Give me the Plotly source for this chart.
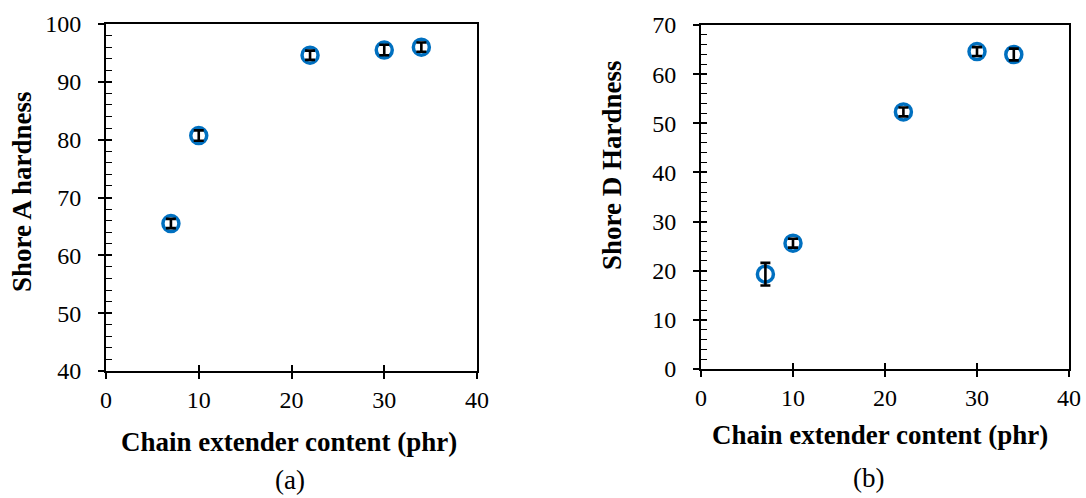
import plotly.graph_objects as go

# Chain extender content (phr)
content = [7, 10, 22, 30, 34]

# Shore A hardness and standard deviations
shore_a = [65.5, 80.7, 94.6, 95.5, 96.0]
shore_a_err = [0.8, 0.9, 0.8, 0.9, 0.8]

# Shore D hardness and standard deviations
shore_d = [19.3, 25.6, 52.3, 64.6, 64.0]
shore_d_err = [2.3, 0.9, 0.9, 0.9, 1.2]

FONT = "Liberation Serif, Times New Roman, serif"
BLUE = "#0070C0"
W, H = 1086, 498

fig = go.Figure()

marker = dict(symbol="circle-open", size=16, color=BLUE, line=dict(width=3.5, color=BLUE))


def err(vals):
    return dict(type="data", array=vals, visible=True, color="black", thickness=2.6, width=5)


# open circles, then the error bars on top of them
for ys, es, xa, ya in [(shore_a, shore_a_err, "x", "y"), (shore_d, shore_d_err, "x2", "y2")]:
    fig.add_trace(go.Scatter(x=content, y=ys, mode="markers", marker=marker,
                             xaxis=xa, yaxis=ya, showlegend=False))
    fig.add_trace(go.Scatter(x=content, y=ys, mode="markers", marker=dict(size=1, opacity=0),
                             error_y=err(es), xaxis=xa, yaxis=ya, showlegend=False,
                             hoverinfo="skip"))

dom_x1 = [106 / W, 477 / W]
dom_x2 = [701 / W, 1069 / W]
dom_y1 = [1 - 371 / H, 1 - 24 / H]
dom_y2 = [1 - 369 / H, 1 - 25 / H]

tickfont = dict(family=FONT, size=24, color="black")

common_x = dict(range=[0, 40], dtick=10, showgrid=False, zeroline=False, showline=True,
                linecolor="black", linewidth=1.8, mirror=True, ticks="outside", ticklen=6,
                tickwidth=1.5, tickcolor="black", tickfont=tickfont, automargin=False)
# en space after the value keeps the labels clear of the axis
common_y = dict(showgrid=False, zeroline=False, showline=True, linecolor="black",
                linewidth=1.8, mirror=True, ticks="outside", ticklen=6, tickwidth=1.5,
                tickcolor="black", tickfont=tickfont, automargin=False, ticksuffix="\u2002")


def inner_ticks(domain, anchor, over, rng, minor=False):
    # inner halves of the major ticks (and the minor ticks) drawn inside the frame
    ax = dict(domain=domain, anchor=anchor, overlaying=over, range=rng, dtick=10,
              showgrid=False, zeroline=False, showline=False, ticks="inside", ticklen=6,
              tickwidth=1.5, tickcolor="black", showticklabels=False, automargin=False)
    if minor:
        ax["minor"] = dict(ticks="inside", ticklen=6, tickwidth=1.3, tickcolor="black", dtick=2)
    return ax


fig.update_layout(
    width=W, height=H,
    margin=dict(l=0, r=0, t=0, b=0, autoexpand=False),
    paper_bgcolor="white", plot_bgcolor="white",
    xaxis=dict(domain=dom_x1, anchor="y", **common_x),
    yaxis=dict(domain=dom_y1, anchor="x", range=[40, 100], dtick=10, **common_y),
    xaxis2=dict(domain=dom_x2, anchor="y2", **common_x),
    yaxis2=dict(domain=dom_y2, anchor="x2", range=[0, 70], dtick=10, **common_y),
    xaxis3=inner_ticks(dom_x1, "y", "x", [0, 40]),
    yaxis3=inner_ticks(dom_y1, "x", "y", [40, 100], minor=True),
    xaxis4=inner_ticks(dom_x2, "y2", "x2", [0, 40]),
    yaxis4=inner_ticks(dom_y2, "x2", "y2", [0, 70], minor=True),
)

# empty traces so the tick overlay axes are drawn
for xa, ya in [("x3", "y3"), ("x4", "y4")]:
    fig.add_trace(go.Scatter(x=[None], y=[None], xaxis=xa, yaxis=ya, showlegend=False,
                             hoverinfo="skip"))

bold = dict(family=FONT, size=27, color="black")
ann = [
    dict(text="<b>Shore A hardness</b>", x=22, y=192, textangle=-90),
    dict(text="<b>Shore D Hardness</b>", x=612, y=165, textangle=-90),
    dict(text="<b>Chain extender content (phr)</b>", x=289, y=442, textangle=0),
    dict(text="<b>Chain extender content (phr)</b>", x=880, y=435, textangle=0),
]
for a in ann:
    fig.add_annotation(text=a["text"], x=a["x"] / W, y=1 - a["y"] / H, xref="paper",
                       yref="paper", showarrow=False, textangle=a["textangle"], font=bold,
                       xanchor="center", yanchor="middle")

for label, x, y in [("(a)", 290, 480), ("(b)", 868, 478)]:
    fig.add_annotation(text=label, x=x / W, y=1 - y / H, xref="paper", yref="paper",
                       showarrow=False, font=dict(family=FONT, size=27, color="black"),
                       xanchor="center", yanchor="middle")

fig.write_html("out.html")
